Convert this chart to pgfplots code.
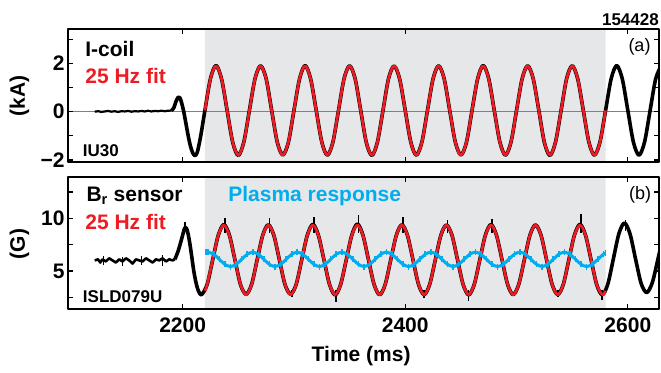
\documentclass[border=0pt]{standalone}
\usepackage{fontspec}
\setmainfont{Liberation Sans}
\usepackage{pgfplots}
\pgfplotsset{compat=1.18}
\definecolor{fitred}{RGB}{237,28,36}
\definecolor{pcyan}{RGB}{0,174,239}
\definecolor{shade}{RGB}{230,231,232}
\definecolor{zgray}{RGB}{128,128,128}
\newcommand{\lab}{\fontsize{21}{24}\selectfont\bfseries}
\newcommand{\sml}{\fontsize{17}{20}\selectfont\bfseries}
\newcommand{\reg}{\fontsize{18}{21}\selectfont}
\pgfplotsset{panel/.style={
  scale only axis, width=591pt, height=132.4pt,
  xmin=2097, xmax=2628,
  xtick={2200,2400,2600},
  axis on top,
  axis line style={line width=2pt},
  every tick/.style={black, line width=1.3pt},
  major tick length=5pt, minor tick length=5pt,
  tick label style={font=\lab},
  xticklabel style={yshift=-5pt},
  anchor=south west,
  line join=round,
}}
\begin{document}
\begin{tikzpicture}
\path[use as bounding box] (0,0) rectangle (661pt,372pt);
% ---------------- top panel ----------------
\begin{axis}[panel, at={(68pt,210.3pt)},
  ymin=-2.07, ymax=3.41, ytick={-2,0,2}, yticklabels={−2,0,2},
  minor ytick={-1,1,3}, xticklabels={},
  extra description/.code={
    \node[font=\lab, anchor=base west, inner sep=0] at (axis description cs:0.029,0.793) {I-coil};
    \node[font=\lab, text=fitred, anchor=base west, inner sep=0] at (axis description cs:0.029,0.592) {25 Hz fit};
    \node[font=\sml, anchor=base west, inner sep=0] at (axis description cs:0.025,0.038) {IU30};
    \node[font=\reg, anchor=base, inner sep=0] at (axis description cs:0.967,0.83) {(a)};
    \node[font=\sml, anchor=base east, inner sep=0] at (axis description cs:1.0,1.032) {154428};
    \node[font=\lab, rotate=90, inner sep=0] at (axis description cs:-0.082,0.496) {(kA)};
  }]
\addplot[fill=shade, draw=none] coordinates {(2220,-3) (2220,4) (2580,4) (2580,-3) (2220,-3)};
\addplot[zgray, line width=1.6pt] coordinates {(2090,0) (2640,0)};
\addplot[black, line width=2.2pt] coordinates {
(2121,0.00) (2124,0.02) (2127,-0.01) (2130,0.01) (2133,0.03) (2136,0.00) (2139,0.02) (2142,-0.01)
(2145,0.02) (2148,0.01) (2151,0.03) (2154,0.00) (2157,0.02) (2160,0.01) (2163,0.03) (2166,0.01)
(2169,0.04) (2172,0.01) (2175,0.03) (2178,0.02) (2181,0.04) (2184,0.02) (2187,0.04) (2190,0.05)};
\addplot[black, line width=3.6pt, smooth] coordinates {
(2190,0.05) (2192,0.15) (2194,0.42) (2196,0.60) (2197.5,0.58) (2199,0.38) (2201,0.00) (2203,-0.50)
(2205,-1.00) (2207,-1.42) (2209,-1.70) (2211,-1.82) (2213,-1.70) (2215,-1.30) (2217,-0.80) (2220,0.05)
(2225,1.37) (2230,1.91) (2235,1.35) (2240,0.04) (2245,-1.27) (2250,-1.81) (2255,-1.25)
(2260,0.06) (2265,1.36) (2270,1.90) (2275,1.37) (2280,0.05) (2285,-1.26) (2290,-1.79) (2295,-1.27)
(2300,0.05) (2305,1.35) (2310,1.91) (2315,1.36) (2320,0.06) (2325,-1.25) (2330,-1.80) (2335,-1.26)
(2340,0.04) (2345,1.36) (2350,1.90) (2355,1.36) (2360,0.05) (2365,-1.27) (2370,-1.81) (2375,-1.26)
(2380,0.05) (2385,1.37) (2390,1.89) (2395,1.35) (2400,0.05) (2405,-1.26) (2410,-1.80) (2415,-1.25)
(2420,0.06) (2425,1.36) (2430,1.90) (2435,1.36) (2440,0.04) (2445,-1.26) (2450,-1.79) (2455,-1.27)
(2460,0.05) (2465,1.35) (2470,1.91) (2475,1.37) (2480,0.05) (2485,-1.25) (2490,-1.80) (2495,-1.26)
(2500,0.05) (2505,1.36) (2510,1.90) (2515,1.36) (2520,0.06) (2525,-1.27) (2530,-1.81) (2535,-1.26)
(2540,0.04) (2545,1.37) (2550,1.90) (2555,1.35) (2560,0.05) (2565,-1.26) (2570,-1.80) (2575,-1.25)
(2580,0.05) (2585,1.36) (2590,1.91) (2595,1.36) (2600,0.05) (2605,-1.26) (2610,-1.80) (2615,-1.26)
(2620,0.05) (2625,1.36) (2630,1.90)};
\addplot[fitred, line width=2.7pt, smooth] coordinates {
(2220,0.05) (2225,1.36) (2230,1.90) (2235,1.36) (2240,0.05) (2245,-1.26) (2250,-1.80) (2255,-1.26)
(2260,0.05) (2265,1.36) (2270,1.90) (2275,1.36) (2280,0.05) (2285,-1.26) (2290,-1.80) (2295,-1.26)
(2300,0.05) (2305,1.36) (2310,1.90) (2315,1.36) (2320,0.05) (2325,-1.26) (2330,-1.80) (2335,-1.26)
(2340,0.05) (2345,1.36) (2350,1.90) (2355,1.36) (2360,0.05) (2365,-1.26) (2370,-1.80) (2375,-1.26)
(2380,0.05) (2385,1.36) (2390,1.90) (2395,1.36) (2400,0.05) (2405,-1.26) (2410,-1.80) (2415,-1.26)
(2420,0.05) (2425,1.36) (2430,1.90) (2435,1.36) (2440,0.05) (2445,-1.26) (2450,-1.80) (2455,-1.26)
(2460,0.05) (2465,1.36) (2470,1.90) (2475,1.36) (2480,0.05) (2485,-1.26) (2490,-1.80) (2495,-1.26)
(2500,0.05) (2505,1.36) (2510,1.90) (2515,1.36) (2520,0.05) (2525,-1.26) (2530,-1.80) (2535,-1.26)
(2540,0.05) (2545,1.36) (2550,1.90) (2555,1.36) (2560,0.05) (2565,-1.26) (2570,-1.80) (2575,-1.26)
(2580,0.05)};
\end{axis}
% ---------------- bottom panel ----------------
\begin{axis}[panel, at={(68pt,63pt)},
  ymin=1.39, ymax=13.95, ytick={5,10}, yticklabels={5,10}, minor ytick={2.5,7.5,12.5},
  xticklabels={2200,2400,2600},
  unbounded coords=jump,
  extra description/.code={
    \node[font=\lab, anchor=base west, inner sep=0] at (axis description cs:0.031,0.811) {B\textsubscript{r} sensor};
    \node[font=\lab, text=fitred, anchor=base west, inner sep=0] at (axis description cs:0.029,0.60) {25 Hz fit};
    \node[font=\sml, anchor=base west, inner sep=0] at (axis description cs:0.025,0.05) {ISLD079U};
    \node[font=\lab, text=pcyan, anchor=base west, inner sep=0] at (axis description cs:0.271,0.811) {Plasma response};
    \node[font=\reg, anchor=base, inner sep=0] at (axis description cs:0.968,0.83) {(b)};
    \node[font=\lab, rotate=90, inner sep=0] at (axis description cs:-0.082,0.49) {(G)};
    \node[font=\lab, anchor=base, inner sep=0] at (axis description cs:0.496,-0.398) {Time (ms)};
  }]
\addplot[fill=shade, draw=none] coordinates {(2220,0) (2220,15) (2580,15) (2580,0) (2220,0)};
\addplot[black, line width=2.6pt] coordinates {
(2121,6.0) (2124,6.1) (2126,5.8) (2128,6.1) (2131,5.9) (2134,6.2) (2137,6.0) (2140,5.8) (2143,6.1)
(2146,5.9) (2149,6.2) (2152,6.0) (2155,5.7) (2158,6.1) (2161,6.0) (2164,5.9) (2167,6.2) (2170,6.0)
(2173,5.8) (2176,6.1) (2179,6.0) (2182,6.2) (2185,5.9) (2188,6.1) (2191,6.0) (2193,6.1)};
\addplot[black, line width=1.6pt] coordinates {
(2129,5.6) (2129,6.4) (nan,nan) (2146,5.5) (2146,6.3) (nan,nan) (2163,5.6) (2163,6.4) (nan,nan)
(2182,5.5) (2182,6.5) (nan,nan) (2202,8.8) (2202,9.6) (nan,nan)
(2238,8.6) (2238,10.0) (nan,nan) (2278,8.6) (2278,10.0) (nan,nan) (2318,8.6) (2318,10.1) (nan,nan)
(2358,8.6) (2358,10.3) (nan,nan) (2398,8.6) (2398,10.1) (nan,nan) (2438,8.6) (2438,9.8) (nan,nan)
(2478,8.6) (2478,9.9) (nan,nan) (2558,8.6) (2558,10.4) (nan,nan) (2598,8.8) (2598,9.8) (nan,nan)
(2338,3.2) (2338,2.05) (nan,nan) (2457,3.2) (2457,2.15) (nan,nan) (2577,3.2) (2577,2.2) (nan,nan)
(2298,3.2) (2298,2.5) (nan,nan) (2417,3.2) (2417,2.4) (nan,nan) (2537,3.2) (2537,2.5)};
\addplot[black, line width=3.6pt, smooth] coordinates {
(2193,6.1) (2196,6.9) (2199,8.0) (2202,9.1) (2204,8.9) (2206,7.9) (2208,6.5) (2210,5.0) (2212,3.9)
(2214,3.15) (2217,2.75)
(2222,3.72) (2227,6.05) (2232,8.38) (2237,9.40) (2242,8.40) (2247,6.05) (2252,3.70) (2257,2.78)
(2262,3.74) (2267,6.08) (2272,8.40) (2277,9.38) (2282,8.36) (2287,6.02) (2292,3.70) (2297,2.80)
(2302,3.72) (2307,6.06) (2312,8.39) (2317,9.42) (2322,8.38) (2327,6.04) (2332,3.71) (2337,2.72)
(2342,3.73) (2347,6.05) (2352,8.40) (2357,9.45) (2362,8.39) (2367,6.05) (2372,3.72) (2377,2.74)
(2382,3.72) (2387,6.06) (2392,8.39) (2397,9.38) (2402,8.37) (2407,6.04) (2412,3.70) (2417,2.76)
(2422,3.73) (2427,6.05) (2432,8.38) (2437,9.36) (2442,8.38) (2447,6.05) (2452,3.72) (2457,2.73)
(2462,3.72) (2467,6.06) (2472,8.40) (2477,9.40) (2482,8.38) (2487,6.04) (2492,3.71) (2497,2.75)
(2502,3.73) (2507,6.05) (2512,8.38) (2517,9.37) (2522,8.39) (2527,6.05) (2532,3.72) (2537,2.76)
(2542,3.72) (2547,6.06) (2552,8.40) (2557,9.42) (2562,8.38) (2567,6.04) (2572,3.71) (2577,2.74)
(2582,3.75) (2587,6.15) (2592,8.55) (2597,9.55) (2602,8.50) (2607,6.10) (2612,3.80) (2617,2.95)
(2622,3.90) (2627,6.10) (2632,8.40)};
\addplot[fitred, line width=2.7pt, smooth] coordinates {
(2220,3.11) (2222,3.72) (2227,6.05) (2232,8.38) (2237,9.35) (2242,8.38) (2247,6.05) (2252,3.72)
(2257,2.75) (2262,3.72) (2267,6.05) (2272,8.38) (2277,9.35) (2282,8.38) (2287,6.05) (2292,3.72)
(2297,2.75) (2302,3.72) (2307,6.05) (2312,8.38) (2317,9.35) (2322,8.38) (2327,6.05) (2332,3.72)
(2337,2.75) (2342,3.72) (2347,6.05) (2352,8.38) (2357,9.35) (2362,8.38) (2367,6.05) (2372,3.72)
(2377,2.75) (2382,3.72) (2387,6.05) (2392,8.38) (2397,9.35) (2402,8.38) (2407,6.05) (2412,3.72)
(2417,2.75) (2422,3.72) (2427,6.05) (2432,8.38) (2437,9.35) (2442,8.38) (2447,6.05) (2452,3.72)
(2457,2.75) (2462,3.72) (2467,6.05) (2472,8.38) (2477,9.35) (2482,8.38) (2487,6.05) (2492,3.72)
(2497,2.75) (2502,3.72) (2507,6.05) (2512,8.38) (2517,9.35) (2522,8.38) (2527,6.05) (2532,3.72)
(2537,2.75) (2542,3.72) (2547,6.05) (2552,8.38) (2557,9.35) (2562,8.38) (2567,6.05) (2572,3.72)
(2577,2.75) (2580,3.11)};
\addplot[pcyan, line width=3pt, smooth, mark=|, mark size=3pt, mark options={line width=1.6pt}] coordinates {
(2221,6.75) (2223,6.78) (2228,6.58) (2233,6.10) (2238,5.62) (2243,5.42) (2248,5.62) (2253,6.10) (2258,6.58)
(2263,6.78) (2268,6.58) (2273,6.10) (2278,5.62) (2283,5.42) (2288,5.62) (2293,6.10) (2298,6.58)
(2303,6.78) (2308,6.58) (2313,6.10) (2318,5.62) (2323,5.42) (2328,5.62) (2333,6.10) (2338,6.58)
(2343,6.78) (2348,6.58) (2353,6.10) (2358,5.62) (2363,5.42) (2368,5.62) (2373,6.10) (2378,6.58)
(2383,6.78) (2388,6.58) (2393,6.10) (2398,5.62) (2403,5.42) (2408,5.62) (2413,6.10) (2418,6.58)
(2423,6.78) (2428,6.58) (2433,6.10) (2438,5.62) (2443,5.42) (2448,5.62) (2453,6.10) (2458,6.58)
(2463,6.78) (2468,6.58) (2473,6.10) (2478,5.62) (2483,5.42) (2488,5.62) (2493,6.10) (2498,6.58)
(2503,6.78) (2508,6.58) (2513,6.10) (2518,5.62) (2523,5.42) (2528,5.62) (2533,6.10) (2538,6.58)
(2543,6.78) (2548,6.58) (2553,6.10) (2558,5.62) (2563,5.42) (2568,5.62) (2573,6.10) (2578,6.58)
(2580,6.71)};
\end{axis}
\end{tikzpicture}
\end{document}
